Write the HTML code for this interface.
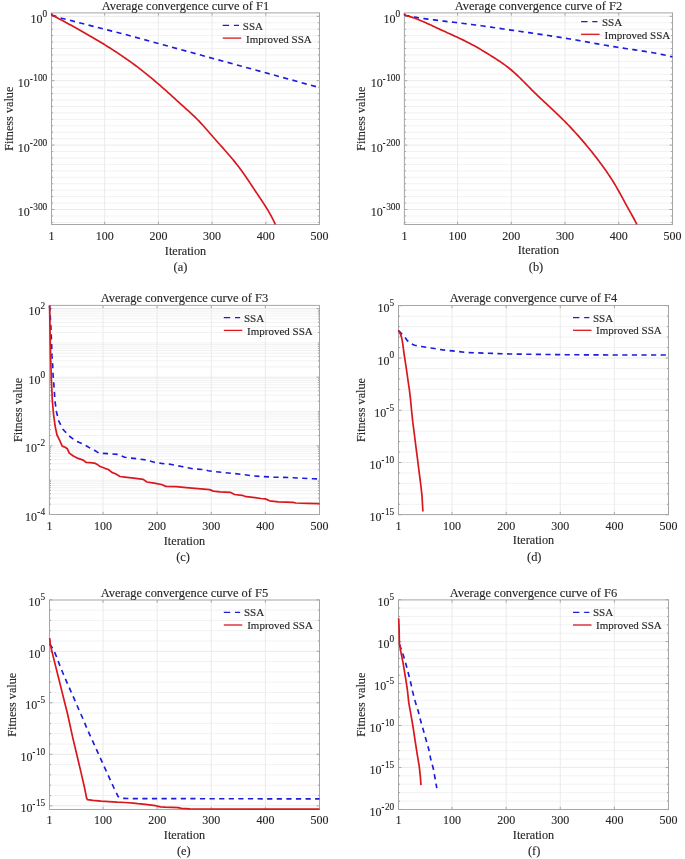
<!DOCTYPE html>
<html><head><meta charset="utf-8"><style>
html,body{margin:0;padding:0;background:#fff;overflow:hidden;}
svg{display:block;will-change:transform;}
text{font-family:"Liberation Serif", serif;fill:#262626;stroke:#262626;stroke-width:0.12px;}
</style></head><body>
<svg width="685" height="859" viewBox="0 0 685 859">
<rect width="685" height="859" fill="#fff"/>
<g>
<line x1="51.5" y1="222.38" x2="319.5" y2="222.38" stroke="#f2f2f2" stroke-width="1"/>
<line x1="51.5" y1="215.94" x2="319.5" y2="215.94" stroke="#f2f2f2" stroke-width="1"/>
<line x1="51.5" y1="203.06" x2="319.5" y2="203.06" stroke="#f2f2f2" stroke-width="1"/>
<line x1="51.5" y1="196.62" x2="319.5" y2="196.62" stroke="#f2f2f2" stroke-width="1"/>
<line x1="51.5" y1="190.18" x2="319.5" y2="190.18" stroke="#f2f2f2" stroke-width="1"/>
<line x1="51.5" y1="183.74" x2="319.5" y2="183.74" stroke="#f2f2f2" stroke-width="1"/>
<line x1="51.5" y1="177.3" x2="319.5" y2="177.3" stroke="#f2f2f2" stroke-width="1"/>
<line x1="51.5" y1="170.86" x2="319.5" y2="170.86" stroke="#f2f2f2" stroke-width="1"/>
<line x1="51.5" y1="164.42" x2="319.5" y2="164.42" stroke="#f2f2f2" stroke-width="1"/>
<line x1="51.5" y1="157.98" x2="319.5" y2="157.98" stroke="#f2f2f2" stroke-width="1"/>
<line x1="51.5" y1="151.54" x2="319.5" y2="151.54" stroke="#f2f2f2" stroke-width="1"/>
<line x1="51.5" y1="138.66" x2="319.5" y2="138.66" stroke="#f2f2f2" stroke-width="1"/>
<line x1="51.5" y1="132.22" x2="319.5" y2="132.22" stroke="#f2f2f2" stroke-width="1"/>
<line x1="51.5" y1="125.78" x2="319.5" y2="125.78" stroke="#f2f2f2" stroke-width="1"/>
<line x1="51.5" y1="119.34" x2="319.5" y2="119.34" stroke="#f2f2f2" stroke-width="1"/>
<line x1="51.5" y1="112.9" x2="319.5" y2="112.9" stroke="#f2f2f2" stroke-width="1"/>
<line x1="51.5" y1="106.46" x2="319.5" y2="106.46" stroke="#f2f2f2" stroke-width="1"/>
<line x1="51.5" y1="100.02" x2="319.5" y2="100.02" stroke="#f2f2f2" stroke-width="1"/>
<line x1="51.5" y1="93.58" x2="319.5" y2="93.58" stroke="#f2f2f2" stroke-width="1"/>
<line x1="51.5" y1="87.14" x2="319.5" y2="87.14" stroke="#f2f2f2" stroke-width="1"/>
<line x1="51.5" y1="74.26" x2="319.5" y2="74.26" stroke="#f2f2f2" stroke-width="1"/>
<line x1="51.5" y1="67.82" x2="319.5" y2="67.82" stroke="#f2f2f2" stroke-width="1"/>
<line x1="51.5" y1="61.38" x2="319.5" y2="61.38" stroke="#f2f2f2" stroke-width="1"/>
<line x1="51.5" y1="54.94" x2="319.5" y2="54.94" stroke="#f2f2f2" stroke-width="1"/>
<line x1="51.5" y1="48.5" x2="319.5" y2="48.5" stroke="#f2f2f2" stroke-width="1"/>
<line x1="51.5" y1="42.06" x2="319.5" y2="42.06" stroke="#f2f2f2" stroke-width="1"/>
<line x1="51.5" y1="35.62" x2="319.5" y2="35.62" stroke="#f2f2f2" stroke-width="1"/>
<line x1="51.5" y1="29.18" x2="319.5" y2="29.18" stroke="#f2f2f2" stroke-width="1"/>
<line x1="51.5" y1="22.74" x2="319.5" y2="22.74" stroke="#f2f2f2" stroke-width="1"/>
<line x1="51.5" y1="16.3" x2="319.5" y2="16.3" stroke="#eaeaea" stroke-width="1"/>
<line x1="51.5" y1="80.7" x2="319.5" y2="80.7" stroke="#eaeaea" stroke-width="1"/>
<line x1="51.5" y1="145.1" x2="319.5" y2="145.1" stroke="#eaeaea" stroke-width="1"/>
<line x1="51.5" y1="209.5" x2="319.5" y2="209.5" stroke="#eaeaea" stroke-width="1"/>
<line x1="104.67" y1="12.9" x2="104.67" y2="224.5" stroke="#eaeaea" stroke-width="1"/>
<line x1="158.38" y1="12.9" x2="158.38" y2="224.5" stroke="#eaeaea" stroke-width="1"/>
<line x1="212.09" y1="12.9" x2="212.09" y2="224.5" stroke="#eaeaea" stroke-width="1"/>
<line x1="265.79" y1="12.9" x2="265.79" y2="224.5" stroke="#eaeaea" stroke-width="1"/>
<rect x="51.5" y="12.9" width="268" height="211.6" fill="none" stroke="#a6a6a6" stroke-width="1"/>
<path d="M51.5,224.5V221.8M51.5,12.9V15.6M104.67,224.5V221.8M104.67,12.9V15.6M158.38,224.5V221.8M158.38,12.9V15.6M212.09,224.5V221.8M212.09,12.9V15.6M265.79,224.5V221.8M265.79,12.9V15.6M319.5,224.5V221.8M319.5,12.9V15.6M51.5,16.3H54.4M319.5,16.3H316.6M51.5,80.7H54.4M319.5,80.7H316.6M51.5,145.1H54.4M319.5,145.1H316.6M51.5,209.5H54.4M319.5,209.5H316.6M51.5,222.38H53.1M319.5,222.38H317.9M51.5,215.94H53.1M319.5,215.94H317.9M51.5,203.06H53.1M319.5,203.06H317.9M51.5,196.62H53.1M319.5,196.62H317.9M51.5,190.18H53.1M319.5,190.18H317.9M51.5,183.74H53.1M319.5,183.74H317.9M51.5,177.3H53.1M319.5,177.3H317.9M51.5,170.86H53.1M319.5,170.86H317.9M51.5,164.42H53.1M319.5,164.42H317.9M51.5,157.98H53.1M319.5,157.98H317.9M51.5,151.54H53.1M319.5,151.54H317.9M51.5,138.66H53.1M319.5,138.66H317.9M51.5,132.22H53.1M319.5,132.22H317.9M51.5,125.78H53.1M319.5,125.78H317.9M51.5,119.34H53.1M319.5,119.34H317.9M51.5,112.9H53.1M319.5,112.9H317.9M51.5,106.46H53.1M319.5,106.46H317.9M51.5,100.02H53.1M319.5,100.02H317.9M51.5,93.58H53.1M319.5,93.58H317.9M51.5,87.14H53.1M319.5,87.14H317.9M51.5,74.26H53.1M319.5,74.26H317.9M51.5,67.82H53.1M319.5,67.82H317.9M51.5,61.38H53.1M319.5,61.38H317.9M51.5,54.94H53.1M319.5,54.94H317.9M51.5,48.5H53.1M319.5,48.5H317.9M51.5,42.06H53.1M319.5,42.06H317.9M51.5,35.62H53.1M319.5,35.62H317.9M51.5,29.18H53.1M319.5,29.18H317.9M51.5,22.74H53.1M319.5,22.74H317.9" stroke="#a6a6a6" stroke-width="1" fill="none"/>
<path d="M51.5,15 L59.3,17.6 L126.5,34.8 L252.9,69.3 L319.5,87.6" fill="none" stroke="#1c1cdc" stroke-width="1.65" stroke-dasharray="5.2 4.4" stroke-linejoin="round"/>
<path d="M51.5,13.3 L51.9,14.9 L53.58,15.9 L55.36,16.83 L57.13,17.77 L58.9,18.71 L60.67,19.65 L62.44,20.59 L64.21,21.54 L65.97,22.49 L67.73,23.44 L69.49,24.39 L71.25,25.35 L73,26.31 L74.75,27.28 L76.5,28.25 L78.25,29.22 L79.99,30.2 L81.73,31.18 L83.47,32.16 L85.21,33.15 L86.94,34.15 L88.67,35.14 L90.39,36.15 L92.11,37.15 L93.83,38.16 L95.55,39.18 L97.26,40.2 L98.97,41.23 L100.67,42.26 L102.37,43.3 L104.07,44.34 L105.76,45.39 L107.45,46.44 L109.13,47.5 L110.81,48.57 L112.49,49.64 L114.16,50.72 L115.83,51.8 L117.49,52.9 L119.15,54 L120.8,55.1 L122.45,56.22 L124.09,57.34 L125.73,58.48 L127.36,59.62 L128.99,60.77 L130.61,61.93 L132.23,63.1 L133.85,64.28 L135.45,65.47 L137.05,66.67 L138.65,67.88 L140.24,69.1 L141.83,70.34 L143.41,71.58 L144.98,72.83 L146.55,74.09 L148.11,75.35 L149.66,76.63 L151.21,77.91 L152.75,79.2 L154.29,80.49 L155.82,81.79 L157.34,83.09 L158.86,84.4 L160.37,85.71 L161.87,87.03 L163.37,88.35 L164.86,89.67 L166.34,90.99 L167.82,92.32 L169.29,93.64 L170.76,94.97 L172.22,96.3 L173.68,97.63 L175.14,98.96 L176.6,100.29 L178.07,101.63 L179.53,102.96 L181,104.3 L182.48,105.63 L183.96,106.97 L185.45,108.31 L186.94,109.65 L188.43,110.99 L189.92,112.35 L191.4,113.71 L192.87,115.08 L194.32,116.46 L195.76,117.85 L197.17,119.26 L198.57,120.69 L199.94,122.13 L201.3,123.58 L202.64,125.04 L203.97,126.51 L205.28,127.99 L206.6,129.48 L207.9,130.97 L209.2,132.47 L210.51,133.97 L211.81,135.47 L213.12,136.97 L214.43,138.47 L215.75,139.97 L217.08,141.46 L218.41,142.96 L219.75,144.45 L221.08,145.95 L222.42,147.44 L223.75,148.94 L225.08,150.44 L226.4,151.95 L227.72,153.46 L229.03,154.97 L230.32,156.5 L231.61,158.02 L232.89,159.56 L234.16,161.1 L235.41,162.65 L236.65,164.21 L237.88,165.77 L239.09,167.35 L240.29,168.94 L241.47,170.53 L242.64,172.14 L243.78,173.76 L244.92,175.39 L246.04,177.03 L247.15,178.68 L248.25,180.33 L249.35,181.98 L250.45,183.65 L251.54,185.31 L252.64,186.97 L253.74,188.64 L254.85,190.3 L255.96,191.96 L257.08,193.62 L258.2,195.28 L259.32,196.94 L260.43,198.61 L261.54,200.27 L262.65,201.94 L263.74,203.62 L264.82,205.3 L265.89,206.99 L266.94,208.68 L267.98,210.39 L268.99,212.1 L269.99,213.82 L270.95,215.55 L271.89,217.3 L272.8,219.06 L273.68,220.83 L274.53,222.61 L275.22,224.5" fill="none" stroke="#d8181f" stroke-width="1.7" stroke-linejoin="round"/>
<text transform="translate(51.5,240) scale(1,1.0)" text-anchor="middle" font-size="12">1</text>
<text transform="translate(104.67,240) scale(1,1.0)" text-anchor="middle" font-size="12">100</text>
<text transform="translate(158.38,240) scale(1,1.0)" text-anchor="middle" font-size="12">200</text>
<text transform="translate(212.09,240) scale(1,1.0)" text-anchor="middle" font-size="12">300</text>
<text transform="translate(265.79,240) scale(1,1.0)" text-anchor="middle" font-size="12">400</text>
<text transform="translate(319.5,240) scale(1,1.0)" text-anchor="middle" font-size="12">500</text>
<text transform="translate(47.3,22.9) scale(1,1.0)" text-anchor="end" font-size="12">10<tspan dy="-6.2" font-size="9.4">0</tspan></text>
<text transform="translate(47.3,87.3) scale(1,1.0)" text-anchor="end" font-size="12">10<tspan dy="-6.7" dx="0.4" font-size="6.8" style="stroke-width:0.55px">-</tspan><tspan dy="0.5" dx="0.8" font-size="9.4">100</tspan></text>
<text transform="translate(47.3,151.7) scale(1,1.0)" text-anchor="end" font-size="12">10<tspan dy="-6.7" dx="0.4" font-size="6.8" style="stroke-width:0.55px">-</tspan><tspan dy="0.5" dx="0.8" font-size="9.4">200</tspan></text>
<text transform="translate(47.3,216.1) scale(1,1.0)" text-anchor="end" font-size="12">10<tspan dy="-6.7" dx="0.4" font-size="6.8" style="stroke-width:0.55px">-</tspan><tspan dy="0.5" dx="0.8" font-size="9.4">300</tspan></text>
<text transform="translate(185.5,9.6) scale(1,1.0)" text-anchor="middle" font-size="12.45">Average convergence curve of F1</text>
<text transform="translate(185.5,254.7) scale(1,1.0)" text-anchor="middle" font-size="12.2">Iteration</text>
<text transform="translate(180.45,270.6) scale(1,1.0)" text-anchor="middle" font-size="12.4">(a)</text>
<text transform="translate(12.6,118.7) rotate(-90) scale(1,1.0)" text-anchor="middle" font-size="12.2">Fitness value</text>
<path d="M222.7,25.3H229.1M233.9,25.3H239" stroke="#1c1cdc" stroke-width="1.3" fill="none"/>
<line x1="222.7" y1="38.1" x2="241.2" y2="38.1" stroke="#d8181f" stroke-width="1.3"/>
<text transform="translate(242.8,29.7) scale(1,1.0)" font-size="11">SSA</text>
<text transform="translate(246.1,42.5) scale(1,1.0)" font-size="11">Improved SSA</text>
</g>
<g>
<line x1="404.4" y1="222.38" x2="672.5" y2="222.38" stroke="#f2f2f2" stroke-width="1"/>
<line x1="404.4" y1="215.94" x2="672.5" y2="215.94" stroke="#f2f2f2" stroke-width="1"/>
<line x1="404.4" y1="203.06" x2="672.5" y2="203.06" stroke="#f2f2f2" stroke-width="1"/>
<line x1="404.4" y1="196.62" x2="672.5" y2="196.62" stroke="#f2f2f2" stroke-width="1"/>
<line x1="404.4" y1="190.18" x2="672.5" y2="190.18" stroke="#f2f2f2" stroke-width="1"/>
<line x1="404.4" y1="183.74" x2="672.5" y2="183.74" stroke="#f2f2f2" stroke-width="1"/>
<line x1="404.4" y1="177.3" x2="672.5" y2="177.3" stroke="#f2f2f2" stroke-width="1"/>
<line x1="404.4" y1="170.86" x2="672.5" y2="170.86" stroke="#f2f2f2" stroke-width="1"/>
<line x1="404.4" y1="164.42" x2="672.5" y2="164.42" stroke="#f2f2f2" stroke-width="1"/>
<line x1="404.4" y1="157.98" x2="672.5" y2="157.98" stroke="#f2f2f2" stroke-width="1"/>
<line x1="404.4" y1="151.54" x2="672.5" y2="151.54" stroke="#f2f2f2" stroke-width="1"/>
<line x1="404.4" y1="138.66" x2="672.5" y2="138.66" stroke="#f2f2f2" stroke-width="1"/>
<line x1="404.4" y1="132.22" x2="672.5" y2="132.22" stroke="#f2f2f2" stroke-width="1"/>
<line x1="404.4" y1="125.78" x2="672.5" y2="125.78" stroke="#f2f2f2" stroke-width="1"/>
<line x1="404.4" y1="119.34" x2="672.5" y2="119.34" stroke="#f2f2f2" stroke-width="1"/>
<line x1="404.4" y1="112.9" x2="672.5" y2="112.9" stroke="#f2f2f2" stroke-width="1"/>
<line x1="404.4" y1="106.46" x2="672.5" y2="106.46" stroke="#f2f2f2" stroke-width="1"/>
<line x1="404.4" y1="100.02" x2="672.5" y2="100.02" stroke="#f2f2f2" stroke-width="1"/>
<line x1="404.4" y1="93.58" x2="672.5" y2="93.58" stroke="#f2f2f2" stroke-width="1"/>
<line x1="404.4" y1="87.14" x2="672.5" y2="87.14" stroke="#f2f2f2" stroke-width="1"/>
<line x1="404.4" y1="74.26" x2="672.5" y2="74.26" stroke="#f2f2f2" stroke-width="1"/>
<line x1="404.4" y1="67.82" x2="672.5" y2="67.82" stroke="#f2f2f2" stroke-width="1"/>
<line x1="404.4" y1="61.38" x2="672.5" y2="61.38" stroke="#f2f2f2" stroke-width="1"/>
<line x1="404.4" y1="54.94" x2="672.5" y2="54.94" stroke="#f2f2f2" stroke-width="1"/>
<line x1="404.4" y1="48.5" x2="672.5" y2="48.5" stroke="#f2f2f2" stroke-width="1"/>
<line x1="404.4" y1="42.06" x2="672.5" y2="42.06" stroke="#f2f2f2" stroke-width="1"/>
<line x1="404.4" y1="35.62" x2="672.5" y2="35.62" stroke="#f2f2f2" stroke-width="1"/>
<line x1="404.4" y1="29.18" x2="672.5" y2="29.18" stroke="#f2f2f2" stroke-width="1"/>
<line x1="404.4" y1="22.74" x2="672.5" y2="22.74" stroke="#f2f2f2" stroke-width="1"/>
<line x1="404.4" y1="16.3" x2="672.5" y2="16.3" stroke="#eaeaea" stroke-width="1"/>
<line x1="404.4" y1="80.7" x2="672.5" y2="80.7" stroke="#eaeaea" stroke-width="1"/>
<line x1="404.4" y1="145.1" x2="672.5" y2="145.1" stroke="#eaeaea" stroke-width="1"/>
<line x1="404.4" y1="209.5" x2="672.5" y2="209.5" stroke="#eaeaea" stroke-width="1"/>
<line x1="457.59" y1="12.9" x2="457.59" y2="224.5" stroke="#eaeaea" stroke-width="1"/>
<line x1="511.32" y1="12.9" x2="511.32" y2="224.5" stroke="#eaeaea" stroke-width="1"/>
<line x1="565.05" y1="12.9" x2="565.05" y2="224.5" stroke="#eaeaea" stroke-width="1"/>
<line x1="618.77" y1="12.9" x2="618.77" y2="224.5" stroke="#eaeaea" stroke-width="1"/>
<rect x="404.4" y="12.9" width="268.1" height="211.6" fill="none" stroke="#a6a6a6" stroke-width="1"/>
<path d="M404.4,224.5V221.8M404.4,12.9V15.6M457.59,224.5V221.8M457.59,12.9V15.6M511.32,224.5V221.8M511.32,12.9V15.6M565.05,224.5V221.8M565.05,12.9V15.6M618.77,224.5V221.8M618.77,12.9V15.6M672.5,224.5V221.8M672.5,12.9V15.6M404.4,16.3H407.3M672.5,16.3H669.6M404.4,80.7H407.3M672.5,80.7H669.6M404.4,145.1H407.3M672.5,145.1H669.6M404.4,209.5H407.3M672.5,209.5H669.6M404.4,222.38H406M672.5,222.38H670.9M404.4,215.94H406M672.5,215.94H670.9M404.4,203.06H406M672.5,203.06H670.9M404.4,196.62H406M672.5,196.62H670.9M404.4,190.18H406M672.5,190.18H670.9M404.4,183.74H406M672.5,183.74H670.9M404.4,177.3H406M672.5,177.3H670.9M404.4,170.86H406M672.5,170.86H670.9M404.4,164.42H406M672.5,164.42H670.9M404.4,157.98H406M672.5,157.98H670.9M404.4,151.54H406M672.5,151.54H670.9M404.4,138.66H406M672.5,138.66H670.9M404.4,132.22H406M672.5,132.22H670.9M404.4,125.78H406M672.5,125.78H670.9M404.4,119.34H406M672.5,119.34H670.9M404.4,112.9H406M672.5,112.9H670.9M404.4,106.46H406M672.5,106.46H670.9M404.4,100.02H406M672.5,100.02H670.9M404.4,93.58H406M672.5,93.58H670.9M404.4,87.14H406M672.5,87.14H670.9M404.4,74.26H406M672.5,74.26H670.9M404.4,67.82H406M672.5,67.82H670.9M404.4,61.38H406M672.5,61.38H670.9M404.4,54.94H406M672.5,54.94H670.9M404.4,48.5H406M672.5,48.5H670.9M404.4,42.06H406M672.5,42.06H670.9M404.4,35.62H406M672.5,35.62H670.9M404.4,29.18H406M672.5,29.18H670.9M404.4,22.74H406M672.5,22.74H670.9" stroke="#a6a6a6" stroke-width="1" fill="none"/>
<path d="M404.5,14.9 L406.34,15.5 L408.32,15.91 L410.3,16.3 L412.27,16.67 L414.25,17.02 L416.23,17.36 L418.2,17.69 L420.18,18 L422.16,18.31 L424.13,18.6 L426.11,18.88 L428.08,19.16 L430.06,19.42 L432.04,19.68 L434.01,19.94 L435.99,20.19 L437.97,20.43 L439.94,20.67 L441.92,20.91 L443.9,21.14 L445.87,21.38 L447.85,21.61 L449.82,21.84 L451.8,22.07 L453.78,22.3 L455.75,22.53 L457.73,22.76 L459.71,22.99 L461.68,23.23 L463.66,23.47 L465.63,23.71 L467.61,23.96 L469.58,24.21 L471.56,24.46 L473.54,24.72 L475.51,24.98 L477.49,25.24 L479.46,25.51 L481.44,25.78 L483.41,26.05 L485.39,26.33 L487.37,26.61 L489.34,26.9 L491.32,27.19 L493.29,27.48 L495.27,27.77 L497.24,28.06 L499.22,28.36 L501.19,28.65 L503.17,28.95 L505.14,29.24 L507.11,29.53 L509.09,29.82 L511.06,30.11 L513.04,30.4 L515.01,30.68 L516.99,30.97 L518.96,31.25 L520.93,31.53 L522.91,31.82 L524.88,32.1 L526.85,32.38 L528.83,32.66 L530.8,32.94 L532.77,33.23 L534.75,33.51 L536.72,33.8 L538.69,34.08 L540.67,34.37 L542.64,34.66 L544.61,34.95 L546.58,35.25 L548.56,35.54 L550.53,35.84 L552.5,36.15 L554.47,36.45 L556.44,36.76 L558.42,37.07 L560.39,37.39 L562.36,37.71 L564.33,38.03 L566.3,38.36 L568.27,38.69 L570.24,39.03 L572.21,39.37 L574.18,39.71 L576.15,40.05 L578.12,40.4 L580.09,40.75 L582.06,41.1 L584.03,41.45 L586,41.81 L587.97,42.16 L589.94,42.51 L591.91,42.87 L593.88,43.22 L595.84,43.57 L597.81,43.92 L599.78,44.27 L601.75,44.61 L603.72,44.95 L605.68,45.29 L607.65,45.63 L609.62,45.96 L611.59,46.29 L613.55,46.62 L615.52,46.93 L617.48,47.25 L619.45,47.56 L621.42,47.86 L623.38,48.16 L625.35,48.45 L627.31,48.75 L629.28,49.04 L631.24,49.33 L633.21,49.62 L635.17,49.91 L637.14,50.2 L639.1,50.5 L641.06,50.79 L643.03,51.09 L644.99,51.4 L646.95,51.72 L648.91,52.04 L650.88,52.37 L652.84,52.71 L654.8,53.06 L656.76,53.43 L658.72,53.81 L660.69,54.2 L662.65,54.61 L664.61,55.04 L666.57,55.49 L668.53,55.95 L670.49,56.44 L672.4,57" fill="none" stroke="#1c1cdc" stroke-width="1.65" stroke-dasharray="5.2 4.4" stroke-linejoin="round"/>
<path d="M404.4,13.5 L404.75,15.26 L406.74,15.75 L408.62,16.26 L410.49,16.81 L412.36,17.42 L414.23,18.06 L416.09,18.74 L417.95,19.45 L419.81,20.2 L421.66,20.97 L423.51,21.76 L425.35,22.58 L427.19,23.41 L429.03,24.25 L430.86,25.1 L432.69,25.95 L434.52,26.81 L436.34,27.67 L438.16,28.52 L439.98,29.36 L441.79,30.19 L443.6,31.01 L445.41,31.84 L447.21,32.66 L449.01,33.47 L450.81,34.29 L452.6,35.11 L454.4,35.93 L456.18,36.76 L457.97,37.59 L459.75,38.43 L461.53,39.28 L463.31,40.14 L465.09,41.01 L466.86,41.9 L468.63,42.8 L470.39,43.72 L472.16,44.66 L473.92,45.61 L475.68,46.59 L477.43,47.58 L479.18,48.59 L480.93,49.61 L482.67,50.65 L484.4,51.69 L486.13,52.75 L487.84,53.81 L489.55,54.87 L491.25,55.93 L492.94,57 L494.62,58.07 L496.29,59.14 L497.94,60.22 L499.58,61.31 L501.21,62.41 L502.82,63.53 L504.42,64.67 L506,65.83 L507.57,67.02 L509.11,68.24 L510.64,69.49 L512.16,70.77 L513.65,72.07 L515.13,73.4 L516.6,74.75 L518.06,76.12 L519.5,77.5 L520.93,78.9 L522.36,80.31 L523.77,81.73 L525.18,83.15 L526.58,84.58 L527.98,86.01 L529.39,87.44 L530.79,88.86 L532.19,90.28 L533.61,91.68 L535.02,93.08 L536.45,94.46 L537.88,95.83 L539.32,97.2 L540.76,98.56 L542.21,99.91 L543.66,101.27 L545.11,102.62 L546.57,103.97 L548.02,105.32 L549.48,106.68 L550.93,108.04 L552.38,109.4 L553.83,110.77 L555.28,112.15 L556.72,113.53 L558.16,114.92 L559.6,116.31 L561.02,117.71 L562.44,119.11 L563.85,120.52 L565.26,121.93 L566.65,123.36 L568.04,124.78 L569.41,126.21 L570.77,127.65 L572.13,129.1 L573.48,130.55 L574.81,132.01 L576.14,133.47 L577.47,134.94 L578.78,136.42 L580.09,137.9 L581.38,139.39 L582.68,140.89 L583.96,142.4 L585.24,143.91 L586.51,145.43 L587.78,146.96 L589.04,148.49 L590.29,150.04 L591.54,151.59 L592.79,153.15 L594.03,154.72 L595.26,156.29 L596.49,157.88 L597.72,159.47 L598.93,161.07 L600.14,162.68 L601.34,164.29 L602.53,165.91 L603.7,167.54 L604.87,169.18 L606.03,170.82 L607.17,172.47 L608.29,174.13 L609.41,175.79 L610.51,177.46 L611.59,179.13 L612.65,180.81 L613.7,182.5 L614.73,184.19 L615.74,185.89 L616.73,187.59 L617.7,189.3 L618.67,191.02 L619.62,192.74 L620.56,194.46 L621.5,196.19 L622.44,197.92 L623.38,199.66 L624.32,201.4 L625.26,203.14 L626.22,204.89 L627.18,206.65 L628.16,208.4 L629.15,210.16 L630.14,211.93 L631.14,213.69 L632.14,215.46 L633.12,217.24 L634.1,219.01 L635.05,220.79 L635.98,222.57 L636.79,224.3" fill="none" stroke="#d8181f" stroke-width="1.7" stroke-linejoin="round"/>
<text transform="translate(404.4,240) scale(1,1.0)" text-anchor="middle" font-size="12">1</text>
<text transform="translate(457.59,240) scale(1,1.0)" text-anchor="middle" font-size="12">100</text>
<text transform="translate(511.32,240) scale(1,1.0)" text-anchor="middle" font-size="12">200</text>
<text transform="translate(565.05,240) scale(1,1.0)" text-anchor="middle" font-size="12">300</text>
<text transform="translate(618.77,240) scale(1,1.0)" text-anchor="middle" font-size="12">400</text>
<text transform="translate(672.5,240) scale(1,1.0)" text-anchor="middle" font-size="12">500</text>
<text transform="translate(400.2,22.9) scale(1,1.0)" text-anchor="end" font-size="12">10<tspan dy="-6.2" font-size="9.4">0</tspan></text>
<text transform="translate(400.2,87.3) scale(1,1.0)" text-anchor="end" font-size="12">10<tspan dy="-6.7" dx="0.4" font-size="6.8" style="stroke-width:0.55px">-</tspan><tspan dy="0.5" dx="0.8" font-size="9.4">100</tspan></text>
<text transform="translate(400.2,151.7) scale(1,1.0)" text-anchor="end" font-size="12">10<tspan dy="-6.7" dx="0.4" font-size="6.8" style="stroke-width:0.55px">-</tspan><tspan dy="0.5" dx="0.8" font-size="9.4">200</tspan></text>
<text transform="translate(400.2,216.1) scale(1,1.0)" text-anchor="end" font-size="12">10<tspan dy="-6.7" dx="0.4" font-size="6.8" style="stroke-width:0.55px">-</tspan><tspan dy="0.5" dx="0.8" font-size="9.4">300</tspan></text>
<text transform="translate(538.45,9.6) scale(1,1.0)" text-anchor="middle" font-size="12.45">Average convergence curve of F2</text>
<text transform="translate(538.45,254.3) scale(1,1.0)" text-anchor="middle" font-size="12.2">Iteration</text>
<text transform="translate(536,270.9) scale(1,1.0)" text-anchor="middle" font-size="12.4">(b)</text>
<text transform="translate(364.9,118.7) rotate(-90) scale(1,1.0)" text-anchor="middle" font-size="12.2">Fitness value</text>
<path d="M581.1,21.7H587.5M592.3,21.7H597.4" stroke="#1c1cdc" stroke-width="1.3" fill="none"/>
<line x1="581.1" y1="34.3" x2="599.6" y2="34.3" stroke="#d8181f" stroke-width="1.3"/>
<text transform="translate(601.9,25.7) scale(1,1.0)" font-size="11">SSA</text>
<text transform="translate(604.5,38.5) scale(1,1.0)" font-size="11">Improved SSA</text>
</g>
<g>
<line x1="49.4" y1="504.15" x2="319.5" y2="504.15" stroke="#f2f2f2" stroke-width="1"/>
<line x1="49.4" y1="498.11" x2="319.5" y2="498.11" stroke="#f2f2f2" stroke-width="1"/>
<line x1="49.4" y1="493.82" x2="319.5" y2="493.82" stroke="#f2f2f2" stroke-width="1"/>
<line x1="49.4" y1="490.49" x2="319.5" y2="490.49" stroke="#f2f2f2" stroke-width="1"/>
<line x1="49.4" y1="487.77" x2="319.5" y2="487.77" stroke="#f2f2f2" stroke-width="1"/>
<line x1="49.4" y1="485.48" x2="319.5" y2="485.48" stroke="#f2f2f2" stroke-width="1"/>
<line x1="49.4" y1="483.49" x2="319.5" y2="483.49" stroke="#f2f2f2" stroke-width="1"/>
<line x1="49.4" y1="481.73" x2="319.5" y2="481.73" stroke="#f2f2f2" stroke-width="1"/>
<line x1="49.4" y1="469.83" x2="319.5" y2="469.83" stroke="#f2f2f2" stroke-width="1"/>
<line x1="49.4" y1="463.79" x2="319.5" y2="463.79" stroke="#f2f2f2" stroke-width="1"/>
<line x1="49.4" y1="459.5" x2="319.5" y2="459.5" stroke="#f2f2f2" stroke-width="1"/>
<line x1="49.4" y1="456.17" x2="319.5" y2="456.17" stroke="#f2f2f2" stroke-width="1"/>
<line x1="49.4" y1="453.45" x2="319.5" y2="453.45" stroke="#f2f2f2" stroke-width="1"/>
<line x1="49.4" y1="451.16" x2="319.5" y2="451.16" stroke="#f2f2f2" stroke-width="1"/>
<line x1="49.4" y1="449.17" x2="319.5" y2="449.17" stroke="#f2f2f2" stroke-width="1"/>
<line x1="49.4" y1="447.41" x2="319.5" y2="447.41" stroke="#f2f2f2" stroke-width="1"/>
<line x1="49.4" y1="435.51" x2="319.5" y2="435.51" stroke="#f2f2f2" stroke-width="1"/>
<line x1="49.4" y1="429.47" x2="319.5" y2="429.47" stroke="#f2f2f2" stroke-width="1"/>
<line x1="49.4" y1="425.18" x2="319.5" y2="425.18" stroke="#f2f2f2" stroke-width="1"/>
<line x1="49.4" y1="421.85" x2="319.5" y2="421.85" stroke="#f2f2f2" stroke-width="1"/>
<line x1="49.4" y1="419.13" x2="319.5" y2="419.13" stroke="#f2f2f2" stroke-width="1"/>
<line x1="49.4" y1="416.84" x2="319.5" y2="416.84" stroke="#f2f2f2" stroke-width="1"/>
<line x1="49.4" y1="414.85" x2="319.5" y2="414.85" stroke="#f2f2f2" stroke-width="1"/>
<line x1="49.4" y1="413.09" x2="319.5" y2="413.09" stroke="#f2f2f2" stroke-width="1"/>
<line x1="49.4" y1="401.19" x2="319.5" y2="401.19" stroke="#f2f2f2" stroke-width="1"/>
<line x1="49.4" y1="395.15" x2="319.5" y2="395.15" stroke="#f2f2f2" stroke-width="1"/>
<line x1="49.4" y1="390.86" x2="319.5" y2="390.86" stroke="#f2f2f2" stroke-width="1"/>
<line x1="49.4" y1="387.53" x2="319.5" y2="387.53" stroke="#f2f2f2" stroke-width="1"/>
<line x1="49.4" y1="384.81" x2="319.5" y2="384.81" stroke="#f2f2f2" stroke-width="1"/>
<line x1="49.4" y1="382.52" x2="319.5" y2="382.52" stroke="#f2f2f2" stroke-width="1"/>
<line x1="49.4" y1="380.53" x2="319.5" y2="380.53" stroke="#f2f2f2" stroke-width="1"/>
<line x1="49.4" y1="378.77" x2="319.5" y2="378.77" stroke="#f2f2f2" stroke-width="1"/>
<line x1="49.4" y1="366.87" x2="319.5" y2="366.87" stroke="#f2f2f2" stroke-width="1"/>
<line x1="49.4" y1="360.83" x2="319.5" y2="360.83" stroke="#f2f2f2" stroke-width="1"/>
<line x1="49.4" y1="356.54" x2="319.5" y2="356.54" stroke="#f2f2f2" stroke-width="1"/>
<line x1="49.4" y1="353.21" x2="319.5" y2="353.21" stroke="#f2f2f2" stroke-width="1"/>
<line x1="49.4" y1="350.49" x2="319.5" y2="350.49" stroke="#f2f2f2" stroke-width="1"/>
<line x1="49.4" y1="348.2" x2="319.5" y2="348.2" stroke="#f2f2f2" stroke-width="1"/>
<line x1="49.4" y1="346.21" x2="319.5" y2="346.21" stroke="#f2f2f2" stroke-width="1"/>
<line x1="49.4" y1="344.45" x2="319.5" y2="344.45" stroke="#f2f2f2" stroke-width="1"/>
<line x1="49.4" y1="332.55" x2="319.5" y2="332.55" stroke="#f2f2f2" stroke-width="1"/>
<line x1="49.4" y1="326.51" x2="319.5" y2="326.51" stroke="#f2f2f2" stroke-width="1"/>
<line x1="49.4" y1="322.22" x2="319.5" y2="322.22" stroke="#f2f2f2" stroke-width="1"/>
<line x1="49.4" y1="318.89" x2="319.5" y2="318.89" stroke="#f2f2f2" stroke-width="1"/>
<line x1="49.4" y1="316.17" x2="319.5" y2="316.17" stroke="#f2f2f2" stroke-width="1"/>
<line x1="49.4" y1="313.88" x2="319.5" y2="313.88" stroke="#f2f2f2" stroke-width="1"/>
<line x1="49.4" y1="311.89" x2="319.5" y2="311.89" stroke="#f2f2f2" stroke-width="1"/>
<line x1="49.4" y1="310.13" x2="319.5" y2="310.13" stroke="#f2f2f2" stroke-width="1"/>
<line x1="49.4" y1="342.88" x2="319.5" y2="342.88" stroke="#f2f2f2" stroke-width="1"/>
<line x1="49.4" y1="411.52" x2="319.5" y2="411.52" stroke="#f2f2f2" stroke-width="1"/>
<line x1="49.4" y1="480.16" x2="319.5" y2="480.16" stroke="#f2f2f2" stroke-width="1"/>
<line x1="49.4" y1="308.56" x2="319.5" y2="308.56" stroke="#eaeaea" stroke-width="1"/>
<line x1="49.4" y1="377.2" x2="319.5" y2="377.2" stroke="#eaeaea" stroke-width="1"/>
<line x1="49.4" y1="445.84" x2="319.5" y2="445.84" stroke="#eaeaea" stroke-width="1"/>
<line x1="102.99" y1="305.4" x2="102.99" y2="514.5" stroke="#eaeaea" stroke-width="1"/>
<line x1="157.12" y1="305.4" x2="157.12" y2="514.5" stroke="#eaeaea" stroke-width="1"/>
<line x1="211.24" y1="305.4" x2="211.24" y2="514.5" stroke="#eaeaea" stroke-width="1"/>
<line x1="265.37" y1="305.4" x2="265.37" y2="514.5" stroke="#eaeaea" stroke-width="1"/>
<rect x="49.4" y="305.4" width="270.1" height="209.1" fill="none" stroke="#a6a6a6" stroke-width="1"/>
<path d="M49.4,514.5V511.8M49.4,305.4V308.1M102.99,514.5V511.8M102.99,305.4V308.1M157.12,514.5V511.8M157.12,305.4V308.1M211.24,514.5V511.8M211.24,305.4V308.1M265.37,514.5V511.8M265.37,305.4V308.1M319.5,514.5V511.8M319.5,305.4V308.1M49.4,308.56H52.3M319.5,308.56H316.6M49.4,377.2H52.3M319.5,377.2H316.6M49.4,445.84H52.3M319.5,445.84H316.6M49.4,514.48H52.3M319.5,514.48H316.6M49.4,504.15H51M319.5,504.15H317.9M49.4,498.11H51M319.5,498.11H317.9M49.4,493.82H51M319.5,493.82H317.9M49.4,490.49H51M319.5,490.49H317.9M49.4,487.77H51M319.5,487.77H317.9M49.4,485.48H51M319.5,485.48H317.9M49.4,483.49H51M319.5,483.49H317.9M49.4,481.73H51M319.5,481.73H317.9M49.4,469.83H51M319.5,469.83H317.9M49.4,463.79H51M319.5,463.79H317.9M49.4,459.5H51M319.5,459.5H317.9M49.4,456.17H51M319.5,456.17H317.9M49.4,453.45H51M319.5,453.45H317.9M49.4,451.16H51M319.5,451.16H317.9M49.4,449.17H51M319.5,449.17H317.9M49.4,447.41H51M319.5,447.41H317.9M49.4,435.51H51M319.5,435.51H317.9M49.4,429.47H51M319.5,429.47H317.9M49.4,425.18H51M319.5,425.18H317.9M49.4,421.85H51M319.5,421.85H317.9M49.4,419.13H51M319.5,419.13H317.9M49.4,416.84H51M319.5,416.84H317.9M49.4,414.85H51M319.5,414.85H317.9M49.4,413.09H51M319.5,413.09H317.9M49.4,401.19H51M319.5,401.19H317.9M49.4,395.15H51M319.5,395.15H317.9M49.4,390.86H51M319.5,390.86H317.9M49.4,387.53H51M319.5,387.53H317.9M49.4,384.81H51M319.5,384.81H317.9M49.4,382.52H51M319.5,382.52H317.9M49.4,380.53H51M319.5,380.53H317.9M49.4,378.77H51M319.5,378.77H317.9M49.4,366.87H51M319.5,366.87H317.9M49.4,360.83H51M319.5,360.83H317.9M49.4,356.54H51M319.5,356.54H317.9M49.4,353.21H51M319.5,353.21H317.9M49.4,350.49H51M319.5,350.49H317.9M49.4,348.2H51M319.5,348.2H317.9M49.4,346.21H51M319.5,346.21H317.9M49.4,344.45H51M319.5,344.45H317.9M49.4,332.55H51M319.5,332.55H317.9M49.4,326.51H51M319.5,326.51H317.9M49.4,322.22H51M319.5,322.22H317.9M49.4,318.89H51M319.5,318.89H317.9M49.4,316.17H51M319.5,316.17H317.9M49.4,313.88H51M319.5,313.88H317.9M49.4,311.89H51M319.5,311.89H317.9M49.4,310.13H51M319.5,310.13H317.9M49.4,342.88H51M319.5,342.88H317.9M49.4,411.52H51M319.5,411.52H317.9M49.4,480.16H51M319.5,480.16H317.9" stroke="#a6a6a6" stroke-width="1" fill="none"/>
<path d="M49.6,305.6 L50.9,327.3 L51.3,337.1 L51.7,346.2 L52,355.9 L52.7,365.7 L53.1,375.5 L53.8,383.9 L54.5,393.7 L55,401.17 L56.42,411.68 L58.76,421.02 L62.85,429.2 L68.69,435.62 L75.69,440.88 L83.87,444.38 L89.71,447.88 L94.38,450.22 L99.05,453.14 L108.4,453.72 L117.74,454.31 L124.75,457.23 L130,458.1 L136.7,458.7 L146.9,460.1 L154.2,462.2 L161.5,463.4 L171.7,464.5 L180.5,466.3 L187.8,467.7 L193.6,468.9 L203.8,469.6 L208.2,470.7 L212.6,471.4 L224.4,472.6 L234.6,473.6 L244.8,474.8 L253.6,476 L263.8,476.6 L274,477.2 L284.2,477.4 L293,477.7 L303.2,478.3 L313.4,478.8 L319.5,478.9" fill="none" stroke="#1c1cdc" stroke-width="1.65" stroke-dasharray="5.2 4.4" stroke-linejoin="round"/>
<path d="M49.6,305.6 L50,328 L50.6,355.9 L51.3,378.3 L52.3,400 L53.5,414 L55.26,426.86 L57,435 L59.34,439.7 L62.26,446.1 L65.18,447.3 L67.52,449.05 L69.27,453.14 L73.36,456.06 L78.03,458.39 L83.28,460.15 L86.2,462.48 L89.71,462.71 L94.38,463.07 L97.88,464.82 L100.22,466.57 L104.89,468.32 L108.4,469.49 L111.9,472.41 L115.4,473.81 L120.07,476.5 L124.75,477.08 L133.8,478.2 L143.2,479.4 L146.9,482 L154.2,483.1 L161.5,484.5 L165.9,486.4 L176.1,486.7 L186.3,487.7 L198,488.6 L209.7,489.6 L213.3,491.1 L220,491.8 L230.2,492.3 L234.6,494.5 L241.9,495.3 L246.3,496.7 L255,497.6 L260.9,498.5 L265.3,498.9 L269.6,500.8 L278.4,501.8 L293,502.3 L295.9,503 L307.6,503.3 L319.5,503.6" fill="none" stroke="#d8181f" stroke-width="1.7" stroke-linejoin="round"/>
<text transform="translate(49.4,529.7) scale(1,1.0)" text-anchor="middle" font-size="12">1</text>
<text transform="translate(102.99,529.7) scale(1,1.0)" text-anchor="middle" font-size="12">100</text>
<text transform="translate(157.12,529.7) scale(1,1.0)" text-anchor="middle" font-size="12">200</text>
<text transform="translate(211.24,529.7) scale(1,1.0)" text-anchor="middle" font-size="12">300</text>
<text transform="translate(265.37,529.7) scale(1,1.0)" text-anchor="middle" font-size="12">400</text>
<text transform="translate(319.5,529.7) scale(1,1.0)" text-anchor="middle" font-size="12">500</text>
<text transform="translate(45.2,315.16) scale(1,1.0)" text-anchor="end" font-size="12">10<tspan dy="-6.2" font-size="9.4">2</tspan></text>
<text transform="translate(45.2,383.8) scale(1,1.0)" text-anchor="end" font-size="12">10<tspan dy="-6.2" font-size="9.4">0</tspan></text>
<text transform="translate(45.2,452.44) scale(1,1.0)" text-anchor="end" font-size="12">10<tspan dy="-6.7" dx="0.4" font-size="6.8" style="stroke-width:0.55px">-</tspan><tspan dy="0.5" dx="0.8" font-size="9.4">2</tspan></text>
<text transform="translate(45.2,521.08) scale(1,1.0)" text-anchor="end" font-size="12">10<tspan dy="-6.7" dx="0.4" font-size="6.8" style="stroke-width:0.55px">-</tspan><tspan dy="0.5" dx="0.8" font-size="9.4">4</tspan></text>
<text transform="translate(184.45,302.3) scale(1,1.0)" text-anchor="middle" font-size="12.45">Average convergence curve of F3</text>
<text transform="translate(184.45,544.6) scale(1,1.0)" text-anchor="middle" font-size="12.2">Iteration</text>
<text transform="translate(183,560.8) scale(1,1.0)" text-anchor="middle" font-size="12.4">(c)</text>
<text transform="translate(21.6,409.95) rotate(-90) scale(1,1.0)" text-anchor="middle" font-size="12.2">Fitness value</text>
<path d="M223.8,317.7H230.2M235,317.7H240.1" stroke="#1c1cdc" stroke-width="1.3" fill="none"/>
<line x1="223.8" y1="330.4" x2="242.3" y2="330.4" stroke="#d8181f" stroke-width="1.3"/>
<text transform="translate(243.9,321.7) scale(1,1.0)" font-size="11">SSA</text>
<text transform="translate(247.1,334.5) scale(1,1.0)" font-size="11">Improved SSA</text>
</g>
<g>
<line x1="398.5" y1="504.3" x2="668.5" y2="504.3" stroke="#f2f2f2" stroke-width="1"/>
<line x1="398.5" y1="493.85" x2="668.5" y2="493.85" stroke="#f2f2f2" stroke-width="1"/>
<line x1="398.5" y1="483.4" x2="668.5" y2="483.4" stroke="#f2f2f2" stroke-width="1"/>
<line x1="398.5" y1="472.95" x2="668.5" y2="472.95" stroke="#f2f2f2" stroke-width="1"/>
<line x1="398.5" y1="452.05" x2="668.5" y2="452.05" stroke="#f2f2f2" stroke-width="1"/>
<line x1="398.5" y1="441.6" x2="668.5" y2="441.6" stroke="#f2f2f2" stroke-width="1"/>
<line x1="398.5" y1="431.15" x2="668.5" y2="431.15" stroke="#f2f2f2" stroke-width="1"/>
<line x1="398.5" y1="420.7" x2="668.5" y2="420.7" stroke="#f2f2f2" stroke-width="1"/>
<line x1="398.5" y1="399.8" x2="668.5" y2="399.8" stroke="#f2f2f2" stroke-width="1"/>
<line x1="398.5" y1="389.35" x2="668.5" y2="389.35" stroke="#f2f2f2" stroke-width="1"/>
<line x1="398.5" y1="378.9" x2="668.5" y2="378.9" stroke="#f2f2f2" stroke-width="1"/>
<line x1="398.5" y1="368.45" x2="668.5" y2="368.45" stroke="#f2f2f2" stroke-width="1"/>
<line x1="398.5" y1="347.55" x2="668.5" y2="347.55" stroke="#f2f2f2" stroke-width="1"/>
<line x1="398.5" y1="337.1" x2="668.5" y2="337.1" stroke="#f2f2f2" stroke-width="1"/>
<line x1="398.5" y1="326.65" x2="668.5" y2="326.65" stroke="#f2f2f2" stroke-width="1"/>
<line x1="398.5" y1="316.2" x2="668.5" y2="316.2" stroke="#f2f2f2" stroke-width="1"/>
<line x1="398.5" y1="358" x2="668.5" y2="358" stroke="#eaeaea" stroke-width="1"/>
<line x1="398.5" y1="410.25" x2="668.5" y2="410.25" stroke="#eaeaea" stroke-width="1"/>
<line x1="398.5" y1="462.5" x2="668.5" y2="462.5" stroke="#eaeaea" stroke-width="1"/>
<line x1="452.07" y1="305.5" x2="452.07" y2="514.6" stroke="#eaeaea" stroke-width="1"/>
<line x1="506.18" y1="305.5" x2="506.18" y2="514.6" stroke="#eaeaea" stroke-width="1"/>
<line x1="560.28" y1="305.5" x2="560.28" y2="514.6" stroke="#eaeaea" stroke-width="1"/>
<line x1="614.39" y1="305.5" x2="614.39" y2="514.6" stroke="#eaeaea" stroke-width="1"/>
<rect x="398.5" y="305.5" width="270" height="209.1" fill="none" stroke="#a6a6a6" stroke-width="1"/>
<path d="M398.5,514.6V511.9M398.5,305.5V308.2M452.07,514.6V511.9M452.07,305.5V308.2M506.18,514.6V511.9M506.18,305.5V308.2M560.28,514.6V511.9M560.28,305.5V308.2M614.39,514.6V511.9M614.39,305.5V308.2M668.5,514.6V511.9M668.5,305.5V308.2M398.5,305.75H401.4M668.5,305.75H665.6M398.5,358H401.4M668.5,358H665.6M398.5,410.25H401.4M668.5,410.25H665.6M398.5,462.5H401.4M668.5,462.5H665.6M398.5,514.75H401.4M668.5,514.75H665.6M398.5,504.3H400.1M668.5,504.3H666.9M398.5,493.85H400.1M668.5,493.85H666.9M398.5,483.4H400.1M668.5,483.4H666.9M398.5,472.95H400.1M668.5,472.95H666.9M398.5,452.05H400.1M668.5,452.05H666.9M398.5,441.6H400.1M668.5,441.6H666.9M398.5,431.15H400.1M668.5,431.15H666.9M398.5,420.7H400.1M668.5,420.7H666.9M398.5,399.8H400.1M668.5,399.8H666.9M398.5,389.35H400.1M668.5,389.35H666.9M398.5,378.9H400.1M668.5,378.9H666.9M398.5,368.45H400.1M668.5,368.45H666.9M398.5,347.55H400.1M668.5,347.55H666.9M398.5,337.1H400.1M668.5,337.1H666.9M398.5,326.65H400.1M668.5,326.65H666.9M398.5,316.2H400.1M668.5,316.2H666.9" stroke="#a6a6a6" stroke-width="1" fill="none"/>
<path d="M398.5,330.5 L401.5,333.6 L404.7,336.9 L407.6,340.9 L411.1,343.8 L414.6,345.3 L421.6,346.5 L428.6,347.7 L434.4,348.5 L442.8,349.9 L468,352.6 L510,354 L562.6,354.7 L615.2,355 L668.4,355" fill="none" stroke="#1c1cdc" stroke-width="1.65" stroke-dasharray="5.2 4.4" stroke-linejoin="round"/>
<path d="M398.3,330.5 L400.1,333.4 L401.6,337.4 L402.7,343.3 L403.9,352.6 L405.3,361.9 L406.7,371.2 L408,380.5 L409.4,389.8 L410.5,399.1 L411.5,410 L412.8,422.2 L414.4,434.5 L415.9,446.7 L417.5,458.9 L419,471.2 L420.6,483.4 L422,495.6 L422.9,511.5" fill="none" stroke="#d8181f" stroke-width="1.7" stroke-linejoin="round"/>
<text transform="translate(398.5,529.8) scale(1,1.0)" text-anchor="middle" font-size="12">1</text>
<text transform="translate(452.07,529.8) scale(1,1.0)" text-anchor="middle" font-size="12">100</text>
<text transform="translate(506.18,529.8) scale(1,1.0)" text-anchor="middle" font-size="12">200</text>
<text transform="translate(560.28,529.8) scale(1,1.0)" text-anchor="middle" font-size="12">300</text>
<text transform="translate(614.39,529.8) scale(1,1.0)" text-anchor="middle" font-size="12">400</text>
<text transform="translate(668.5,529.8) scale(1,1.0)" text-anchor="middle" font-size="12">500</text>
<text transform="translate(394.3,312.35) scale(1,1.0)" text-anchor="end" font-size="12">10<tspan dy="-6.2" font-size="9.4">5</tspan></text>
<text transform="translate(394.3,364.6) scale(1,1.0)" text-anchor="end" font-size="12">10<tspan dy="-6.2" font-size="9.4">0</tspan></text>
<text transform="translate(394.3,416.85) scale(1,1.0)" text-anchor="end" font-size="12">10<tspan dy="-6.7" dx="0.4" font-size="6.8" style="stroke-width:0.55px">-</tspan><tspan dy="0.5" dx="0.8" font-size="9.4">5</tspan></text>
<text transform="translate(394.3,469.1) scale(1,1.0)" text-anchor="end" font-size="12">10<tspan dy="-6.7" dx="0.4" font-size="6.8" style="stroke-width:0.55px">-</tspan><tspan dy="0.5" dx="0.8" font-size="9.4">10</tspan></text>
<text transform="translate(394.3,521.35) scale(1,1.0)" text-anchor="end" font-size="12">10<tspan dy="-6.7" dx="0.4" font-size="6.8" style="stroke-width:0.55px">-</tspan><tspan dy="0.5" dx="0.8" font-size="9.4">15</tspan></text>
<text transform="translate(533.5,302.3) scale(1,1.0)" text-anchor="middle" font-size="12.45">Average convergence curve of F4</text>
<text transform="translate(533.5,544.4) scale(1,1.0)" text-anchor="middle" font-size="12.2">Iteration</text>
<text transform="translate(534.25,560.9) scale(1,1.0)" text-anchor="middle" font-size="12.4">(d)</text>
<text transform="translate(365.25,410.05) rotate(-90) scale(1,1.0)" text-anchor="middle" font-size="12.2">Fitness value</text>
<path d="M573,317.6H579.4M584.2,317.6H589.3" stroke="#1c1cdc" stroke-width="1.3" fill="none"/>
<line x1="573" y1="330.3" x2="591.5" y2="330.3" stroke="#d8181f" stroke-width="1.3"/>
<text transform="translate(593,321.7) scale(1,1.0)" font-size="11">SSA</text>
<text transform="translate(596.1,334.4) scale(1,1.0)" font-size="11">Improved SSA</text>
</g>
<g>
<line x1="49.5" y1="795.5" x2="319.5" y2="795.5" stroke="#f2f2f2" stroke-width="1"/>
<line x1="49.5" y1="785.2" x2="319.5" y2="785.2" stroke="#f2f2f2" stroke-width="1"/>
<line x1="49.5" y1="774.9" x2="319.5" y2="774.9" stroke="#f2f2f2" stroke-width="1"/>
<line x1="49.5" y1="764.6" x2="319.5" y2="764.6" stroke="#f2f2f2" stroke-width="1"/>
<line x1="49.5" y1="744" x2="319.5" y2="744" stroke="#f2f2f2" stroke-width="1"/>
<line x1="49.5" y1="733.7" x2="319.5" y2="733.7" stroke="#f2f2f2" stroke-width="1"/>
<line x1="49.5" y1="723.4" x2="319.5" y2="723.4" stroke="#f2f2f2" stroke-width="1"/>
<line x1="49.5" y1="713.1" x2="319.5" y2="713.1" stroke="#f2f2f2" stroke-width="1"/>
<line x1="49.5" y1="692.5" x2="319.5" y2="692.5" stroke="#f2f2f2" stroke-width="1"/>
<line x1="49.5" y1="682.2" x2="319.5" y2="682.2" stroke="#f2f2f2" stroke-width="1"/>
<line x1="49.5" y1="671.9" x2="319.5" y2="671.9" stroke="#f2f2f2" stroke-width="1"/>
<line x1="49.5" y1="661.6" x2="319.5" y2="661.6" stroke="#f2f2f2" stroke-width="1"/>
<line x1="49.5" y1="641" x2="319.5" y2="641" stroke="#f2f2f2" stroke-width="1"/>
<line x1="49.5" y1="630.7" x2="319.5" y2="630.7" stroke="#f2f2f2" stroke-width="1"/>
<line x1="49.5" y1="620.4" x2="319.5" y2="620.4" stroke="#f2f2f2" stroke-width="1"/>
<line x1="49.5" y1="610.1" x2="319.5" y2="610.1" stroke="#f2f2f2" stroke-width="1"/>
<line x1="49.5" y1="651.3" x2="319.5" y2="651.3" stroke="#eaeaea" stroke-width="1"/>
<line x1="49.5" y1="702.8" x2="319.5" y2="702.8" stroke="#eaeaea" stroke-width="1"/>
<line x1="49.5" y1="754.3" x2="319.5" y2="754.3" stroke="#eaeaea" stroke-width="1"/>
<line x1="49.5" y1="805.8" x2="319.5" y2="805.8" stroke="#eaeaea" stroke-width="1"/>
<line x1="103.07" y1="600" x2="103.07" y2="809.5" stroke="#eaeaea" stroke-width="1"/>
<line x1="157.18" y1="600" x2="157.18" y2="809.5" stroke="#eaeaea" stroke-width="1"/>
<line x1="211.28" y1="600" x2="211.28" y2="809.5" stroke="#eaeaea" stroke-width="1"/>
<line x1="265.39" y1="600" x2="265.39" y2="809.5" stroke="#eaeaea" stroke-width="1"/>
<rect x="49.5" y="600" width="270" height="209.5" fill="none" stroke="#a6a6a6" stroke-width="1"/>
<path d="M49.5,809.5V806.8M49.5,600V602.7M103.07,809.5V806.8M103.07,600V602.7M157.18,809.5V806.8M157.18,600V602.7M211.28,809.5V806.8M211.28,600V602.7M265.39,809.5V806.8M265.39,600V602.7M319.5,809.5V806.8M319.5,600V602.7M49.5,599.8H52.4M319.5,599.8H316.6M49.5,651.3H52.4M319.5,651.3H316.6M49.5,702.8H52.4M319.5,702.8H316.6M49.5,754.3H52.4M319.5,754.3H316.6M49.5,805.8H52.4M319.5,805.8H316.6M49.5,795.5H51.1M319.5,795.5H317.9M49.5,785.2H51.1M319.5,785.2H317.9M49.5,774.9H51.1M319.5,774.9H317.9M49.5,764.6H51.1M319.5,764.6H317.9M49.5,744H51.1M319.5,744H317.9M49.5,733.7H51.1M319.5,733.7H317.9M49.5,723.4H51.1M319.5,723.4H317.9M49.5,713.1H51.1M319.5,713.1H317.9M49.5,692.5H51.1M319.5,692.5H317.9M49.5,682.2H51.1M319.5,682.2H317.9M49.5,671.9H51.1M319.5,671.9H317.9M49.5,661.6H51.1M319.5,661.6H317.9M49.5,641H51.1M319.5,641H317.9M49.5,630.7H51.1M319.5,630.7H317.9M49.5,620.4H51.1M319.5,620.4H317.9M49.5,610.1H51.1M319.5,610.1H317.9" stroke="#a6a6a6" stroke-width="1" fill="none"/>
<path d="M49.6,644 L51.2,646.3 L53.6,649.8 L56.5,656.7 L60,666 L63.4,674.2 L66.9,682.3 L71,691.6 L75.1,700.9 L79.1,710.2 L83.5,720 L87.4,729.6 L92.8,741.4 L98.1,753.2 L103.5,765 L108.8,776.7 L114.2,788.5 L118.2,796.6 L122.2,798.4 L136,798.6 L319.5,798.9" fill="none" stroke="#1c1cdc" stroke-width="1.65" stroke-dasharray="5.2 4.4" stroke-linejoin="round"/>
<path d="M49.7,638.1 L50.4,645.1 L52.4,653.3 L55.3,664.9 L58.2,676.5 L61.1,688.1 L64,699.8 L67.5,713.7 L68.9,720 L72.4,736.1 L76.7,754.2 L81,772.4 L84.7,788.5 L86.6,798 L87.4,799.6 L93,800.4 L101.1,801.2 L109.1,801.7 L117.1,802.2 L125.1,802.5 L133.2,803.2 L138,803.7 L145.5,804.3 L149.2,804.8 L155.7,805.7 L160.5,806.9 L165.3,807.2 L178.1,807.6 L181.4,808.3 L190,808.9 L319.5,809.2" fill="none" stroke="#d8181f" stroke-width="1.7" stroke-linejoin="round"/>
<text transform="translate(49.5,824.4) scale(1,1.0)" text-anchor="middle" font-size="12">1</text>
<text transform="translate(103.07,824.4) scale(1,1.0)" text-anchor="middle" font-size="12">100</text>
<text transform="translate(157.18,824.4) scale(1,1.0)" text-anchor="middle" font-size="12">200</text>
<text transform="translate(211.28,824.4) scale(1,1.0)" text-anchor="middle" font-size="12">300</text>
<text transform="translate(265.39,824.4) scale(1,1.0)" text-anchor="middle" font-size="12">400</text>
<text transform="translate(319.5,824.4) scale(1,1.0)" text-anchor="middle" font-size="12">500</text>
<text transform="translate(45.3,606.4) scale(1,1.0)" text-anchor="end" font-size="12">10<tspan dy="-6.2" font-size="9.4">5</tspan></text>
<text transform="translate(45.3,657.9) scale(1,1.0)" text-anchor="end" font-size="12">10<tspan dy="-6.2" font-size="9.4">0</tspan></text>
<text transform="translate(45.3,709.4) scale(1,1.0)" text-anchor="end" font-size="12">10<tspan dy="-6.7" dx="0.4" font-size="6.8" style="stroke-width:0.55px">-</tspan><tspan dy="0.5" dx="0.8" font-size="9.4">5</tspan></text>
<text transform="translate(45.3,760.9) scale(1,1.0)" text-anchor="end" font-size="12">10<tspan dy="-6.7" dx="0.4" font-size="6.8" style="stroke-width:0.55px">-</tspan><tspan dy="0.5" dx="0.8" font-size="9.4">10</tspan></text>
<text transform="translate(45.3,812.4) scale(1,1.0)" text-anchor="end" font-size="12">10<tspan dy="-6.7" dx="0.4" font-size="6.8" style="stroke-width:0.55px">-</tspan><tspan dy="0.5" dx="0.8" font-size="9.4">15</tspan></text>
<text transform="translate(184.5,596.8) scale(1,1.0)" text-anchor="middle" font-size="12.45">Average convergence curve of F5</text>
<text transform="translate(184.5,838.9) scale(1,1.0)" text-anchor="middle" font-size="12.2">Iteration</text>
<text transform="translate(183.8,854.8) scale(1,1.0)" text-anchor="middle" font-size="12.4">(e)</text>
<text transform="translate(16.2,704.75) rotate(-90) scale(1,1.0)" text-anchor="middle" font-size="12.2">Fitness value</text>
<path d="M223.8,612.4H230.2M235,612.4H240.1" stroke="#1c1cdc" stroke-width="1.3" fill="none"/>
<line x1="223.8" y1="625" x2="242.3" y2="625" stroke="#d8181f" stroke-width="1.3"/>
<text transform="translate(243.9,616) scale(1,1.0)" font-size="11">SSA</text>
<text transform="translate(247.2,628.8) scale(1,1.0)" font-size="11">Improved SSA</text>
</g>
<g>
<line x1="398.5" y1="801.01" x2="668.5" y2="801.01" stroke="#f2f2f2" stroke-width="1"/>
<line x1="398.5" y1="792.62" x2="668.5" y2="792.62" stroke="#f2f2f2" stroke-width="1"/>
<line x1="398.5" y1="784.23" x2="668.5" y2="784.23" stroke="#f2f2f2" stroke-width="1"/>
<line x1="398.5" y1="775.84" x2="668.5" y2="775.84" stroke="#f2f2f2" stroke-width="1"/>
<line x1="398.5" y1="759.06" x2="668.5" y2="759.06" stroke="#f2f2f2" stroke-width="1"/>
<line x1="398.5" y1="750.67" x2="668.5" y2="750.67" stroke="#f2f2f2" stroke-width="1"/>
<line x1="398.5" y1="742.28" x2="668.5" y2="742.28" stroke="#f2f2f2" stroke-width="1"/>
<line x1="398.5" y1="733.89" x2="668.5" y2="733.89" stroke="#f2f2f2" stroke-width="1"/>
<line x1="398.5" y1="717.11" x2="668.5" y2="717.11" stroke="#f2f2f2" stroke-width="1"/>
<line x1="398.5" y1="708.72" x2="668.5" y2="708.72" stroke="#f2f2f2" stroke-width="1"/>
<line x1="398.5" y1="700.33" x2="668.5" y2="700.33" stroke="#f2f2f2" stroke-width="1"/>
<line x1="398.5" y1="691.94" x2="668.5" y2="691.94" stroke="#f2f2f2" stroke-width="1"/>
<line x1="398.5" y1="675.16" x2="668.5" y2="675.16" stroke="#f2f2f2" stroke-width="1"/>
<line x1="398.5" y1="666.77" x2="668.5" y2="666.77" stroke="#f2f2f2" stroke-width="1"/>
<line x1="398.5" y1="658.38" x2="668.5" y2="658.38" stroke="#f2f2f2" stroke-width="1"/>
<line x1="398.5" y1="649.99" x2="668.5" y2="649.99" stroke="#f2f2f2" stroke-width="1"/>
<line x1="398.5" y1="633.21" x2="668.5" y2="633.21" stroke="#f2f2f2" stroke-width="1"/>
<line x1="398.5" y1="624.82" x2="668.5" y2="624.82" stroke="#f2f2f2" stroke-width="1"/>
<line x1="398.5" y1="616.43" x2="668.5" y2="616.43" stroke="#f2f2f2" stroke-width="1"/>
<line x1="398.5" y1="608.04" x2="668.5" y2="608.04" stroke="#f2f2f2" stroke-width="1"/>
<line x1="398.5" y1="641.6" x2="668.5" y2="641.6" stroke="#eaeaea" stroke-width="1"/>
<line x1="398.5" y1="683.55" x2="668.5" y2="683.55" stroke="#eaeaea" stroke-width="1"/>
<line x1="398.5" y1="725.5" x2="668.5" y2="725.5" stroke="#eaeaea" stroke-width="1"/>
<line x1="398.5" y1="767.45" x2="668.5" y2="767.45" stroke="#eaeaea" stroke-width="1"/>
<line x1="452.07" y1="599.9" x2="452.07" y2="809.5" stroke="#eaeaea" stroke-width="1"/>
<line x1="506.18" y1="599.9" x2="506.18" y2="809.5" stroke="#eaeaea" stroke-width="1"/>
<line x1="560.28" y1="599.9" x2="560.28" y2="809.5" stroke="#eaeaea" stroke-width="1"/>
<line x1="614.39" y1="599.9" x2="614.39" y2="809.5" stroke="#eaeaea" stroke-width="1"/>
<rect x="398.5" y="599.9" width="270" height="209.6" fill="none" stroke="#a6a6a6" stroke-width="1"/>
<path d="M398.5,809.5V806.8M398.5,599.9V602.6M452.07,809.5V806.8M452.07,599.9V602.6M506.18,809.5V806.8M506.18,599.9V602.6M560.28,809.5V806.8M560.28,599.9V602.6M614.39,809.5V806.8M614.39,599.9V602.6M668.5,809.5V806.8M668.5,599.9V602.6M398.5,599.65H401.4M668.5,599.65H665.6M398.5,641.6H401.4M668.5,641.6H665.6M398.5,683.55H401.4M668.5,683.55H665.6M398.5,725.5H401.4M668.5,725.5H665.6M398.5,767.45H401.4M668.5,767.45H665.6M398.5,809.4H401.4M668.5,809.4H665.6M398.5,801.01H400.1M668.5,801.01H666.9M398.5,792.62H400.1M668.5,792.62H666.9M398.5,784.23H400.1M668.5,784.23H666.9M398.5,775.84H400.1M668.5,775.84H666.9M398.5,759.06H400.1M668.5,759.06H666.9M398.5,750.67H400.1M668.5,750.67H666.9M398.5,742.28H400.1M668.5,742.28H666.9M398.5,733.89H400.1M668.5,733.89H666.9M398.5,717.11H400.1M668.5,717.11H666.9M398.5,708.72H400.1M668.5,708.72H666.9M398.5,700.33H400.1M668.5,700.33H666.9M398.5,691.94H400.1M668.5,691.94H666.9M398.5,675.16H400.1M668.5,675.16H666.9M398.5,666.77H400.1M668.5,666.77H666.9M398.5,658.38H400.1M668.5,658.38H666.9M398.5,649.99H400.1M668.5,649.99H666.9M398.5,633.21H400.1M668.5,633.21H666.9M398.5,624.82H400.1M668.5,624.82H666.9M398.5,616.43H400.1M668.5,616.43H666.9M398.5,608.04H400.1M668.5,608.04H666.9" stroke="#a6a6a6" stroke-width="1" fill="none"/>
<path d="M399.5,644.5 L402,651.5 L404.3,658.5 L406.6,666.6 L409,675.9 L411.3,685.2 L412.7,691.9 L415.2,701.5 L418.4,711.8 L421,722.1 L423.6,731 L426.1,740 L428.7,749 L430.6,758.6 L433.2,768.2 L435.1,778.5 L436.8,788.1" fill="none" stroke="#1c1cdc" stroke-width="1.65" stroke-dasharray="5.2 4.4" stroke-linejoin="round"/>
<path d="M398.7,618.4 L399.1,628.3 L399.4,643.4 L400.8,651.5 L403.1,663.1 L406,680.6 L407.4,690 L408.8,702.8 L411.1,715.6 L413.3,728.5 L415.2,741.3 L417.2,754.1 L419.3,766.9 L420.4,777.2 L421,785.1" fill="none" stroke="#d8181f" stroke-width="1.7" stroke-linejoin="round"/>
<text transform="translate(398.5,824.4) scale(1,1.0)" text-anchor="middle" font-size="12">1</text>
<text transform="translate(452.07,824.4) scale(1,1.0)" text-anchor="middle" font-size="12">100</text>
<text transform="translate(506.18,824.4) scale(1,1.0)" text-anchor="middle" font-size="12">200</text>
<text transform="translate(560.28,824.4) scale(1,1.0)" text-anchor="middle" font-size="12">300</text>
<text transform="translate(614.39,824.4) scale(1,1.0)" text-anchor="middle" font-size="12">400</text>
<text transform="translate(668.5,824.4) scale(1,1.0)" text-anchor="middle" font-size="12">500</text>
<text transform="translate(394.3,606.25) scale(1,1.0)" text-anchor="end" font-size="12">10<tspan dy="-6.2" font-size="9.4">5</tspan></text>
<text transform="translate(394.3,648.2) scale(1,1.0)" text-anchor="end" font-size="12">10<tspan dy="-6.2" font-size="9.4">0</tspan></text>
<text transform="translate(394.3,690.15) scale(1,1.0)" text-anchor="end" font-size="12">10<tspan dy="-6.7" dx="0.4" font-size="6.8" style="stroke-width:0.55px">-</tspan><tspan dy="0.5" dx="0.8" font-size="9.4">5</tspan></text>
<text transform="translate(394.3,732.1) scale(1,1.0)" text-anchor="end" font-size="12">10<tspan dy="-6.7" dx="0.4" font-size="6.8" style="stroke-width:0.55px">-</tspan><tspan dy="0.5" dx="0.8" font-size="9.4">10</tspan></text>
<text transform="translate(394.3,774.05) scale(1,1.0)" text-anchor="end" font-size="12">10<tspan dy="-6.7" dx="0.4" font-size="6.8" style="stroke-width:0.55px">-</tspan><tspan dy="0.5" dx="0.8" font-size="9.4">15</tspan></text>
<text transform="translate(394.3,816) scale(1,1.0)" text-anchor="end" font-size="12">10<tspan dy="-6.7" dx="0.4" font-size="6.8" style="stroke-width:0.55px">-</tspan><tspan dy="0.5" dx="0.8" font-size="9.4">20</tspan></text>
<text transform="translate(533.5,596.7) scale(1,1.0)" text-anchor="middle" font-size="12.45">Average convergence curve of F6</text>
<text transform="translate(533.5,838.9) scale(1,1.0)" text-anchor="middle" font-size="12.2">Iteration</text>
<text transform="translate(534.1,854.8) scale(1,1.0)" text-anchor="middle" font-size="12.4">(f)</text>
<text transform="translate(365.25,704.7) rotate(-90) scale(1,1.0)" text-anchor="middle" font-size="12.2">Fitness value</text>
<path d="M573,612.4H579.4M584.2,612.4H589.3" stroke="#1c1cdc" stroke-width="1.3" fill="none"/>
<line x1="573" y1="625" x2="591.5" y2="625" stroke="#d8181f" stroke-width="1.3"/>
<text transform="translate(593,616) scale(1,1.0)" font-size="11">SSA</text>
<text transform="translate(596.1,628.8) scale(1,1.0)" font-size="11">Improved SSA</text>
</g>
</svg>
</body></html>
